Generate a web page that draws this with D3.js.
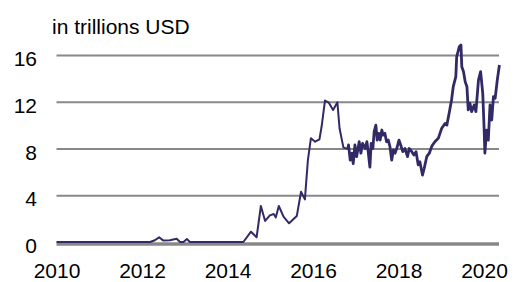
<!DOCTYPE html>
<html>
<head>
<meta charset="utf-8">
<script src="https://cdn.jsdelivr.net/npm/d3@7"></script>
<style>
  body { margin: 0; background: #fff; }
  svg { display: block; font-family: "Liberation Sans", Arial, sans-serif; }
</style>
</head>
<body>
<svg id="chart" width="518" height="282"></svg>
<script>
const unitLabel = "in trillions USD";
const xTicks = [2010, 2012, 2014, 2016, 2018, 2020];
const yTicks = [0, 4, 8, 12, 16];

// decimal years
const years = [
  2010.00, 2012.19, 2012.30, 2012.40, 2012.50, 2012.65, 2012.81, 2012.89, 2012.97, 2013.05, 2013.12,
  2014.37, 2014.55, 2014.68, 2014.78, 2014.88, 2014.99, 2015.08, 2015.13, 2015.20, 2015.31, 2015.44,
  2015.62, 2015.72, 2015.81, 2015.88, 2015.95, 2016.05, 2016.15, 2016.20, 2016.28, 2016.37, 2016.47,
  2016.57, 2016.62, 2016.71, 2016.81, 2016.83, 2016.87, 2016.91, 2016.94, 2016.98, 2017.02, 2017.08,
  2017.12, 2017.16, 2017.22, 2017.26, 2017.29, 2017.33, 2017.36, 2017.40, 2017.43, 2017.47, 2017.50,
  2017.54, 2017.57, 2017.61, 2017.64, 2017.68, 2017.72, 2017.76, 2017.80, 2017.84, 2017.88, 2017.92,
  2017.97, 2018.01, 2018.05, 2018.10, 2018.15, 2018.21, 2018.25, 2018.31, 2018.36, 2018.41, 2018.46,
  2018.50, 2018.56, 2018.60, 2018.66, 2018.72, 2018.78, 2018.85, 2018.93, 2019.01, 2019.09, 2019.13,
  2019.19, 2019.24, 2019.28, 2019.34, 2019.36, 2019.42, 2019.46, 2019.48, 2019.52, 2019.56, 2019.60,
  2019.63, 2019.67, 2019.71, 2019.77, 2019.81, 2019.87, 2019.92, 2019.97, 2020.00, 2020.02, 2020.06,
  2020.10, 2020.14, 2020.18, 2020.22, 2020.26, 2020.31, 2020.36
];
const values = [
  0, 0, 0.15, 0.4, 0.12, 0.15, 0.28, 0, 0, 0.25, 0,
  0, 0.88, 0.4, 3.08, 1.8, 2.28, 2.39, 2.11, 3.08, 2.17, 1.6,
  2.22, 4.3, 3.65, 7.0, 8.87, 8.58, 8.78, 9.86, 12.1, 11.92, 11.3,
  11.95, 9.73, 8.1, 7.95, 8.3, 7.0, 7.6, 6.7, 8.3, 7.3, 8.58,
  7.6, 8.44, 8.0, 8.58, 7.73, 6.4, 8.44, 8.0, 9.44, 10.0, 8.72,
  9.3, 8.72, 9.58, 9.15, 9.3, 8.58, 8.72, 8.15, 7.0, 7.87, 7.6,
  8.15, 8.72, 8.3, 7.73, 8.0, 7.3, 8.0, 7.73, 7.44, 7.73, 6.6,
  6.87, 5.73, 6.3, 7.3, 7.6, 8.21, 8.58, 8.87, 9.73, 10.15, 10.0,
  11.15, 12.15, 13.29, 14.15, 15.85, 16.7, 16.85, 15.0, 14.57, 13.7, 13.29,
  11.3, 11.87, 11.15, 11.72, 11.15, 13.86, 14.57, 12.72, 9.86, 7.6, 9.58,
  8.72, 11.72, 10.44, 12.43, 12.29, 13.86, 15.15
];

const svg = d3.select("#chart");
const plotLeft = 56.5, plotRight = 499, plotTop = 55, plotBottom = 242;

const x = d3.scaleLinear().domain([2010, 2020.35]).range([plotLeft, plotRight]);
const y = d3.scaleLinear().domain([0, 16]).range([plotBottom, plotTop]);

// gridlines + y labels
const gy = svg.append("g")
  .attr("transform", `translate(${plotLeft},0)`)
  .call(d3.axisLeft(y).tickValues(yTicks).tickSize(-(plotRight - plotLeft)).tickPadding(19.5));
gy.select(".domain").remove();
gy.selectAll(".tick line").attr("stroke", "#888").attr("stroke-width", 2);
gy.selectAll(".tick").filter(d => d === 0).select("line")
  .attr("stroke-width", 3.5).attr("transform", "translate(0,1.5)");
gy.selectAll(".tick text").attr("font-size", 21).attr("fill", "#000")
  .attr("font-family", "Liberation Sans, Arial, sans-serif").attr("dy", "0.5em");

// x labels
const gx = svg.append("g")
  .attr("transform", `translate(0,${plotBottom})`)
  .call(d3.axisBottom(x).tickValues(xTicks).tickFormat(d3.format("d")).tickSize(0).tickPadding(21));
gx.select(".domain").remove();
gx.selectAll(".tick text").attr("font-size", 21).attr("fill", "#000")
  .attr("font-family", "Liberation Sans, Arial, sans-serif");

// series: the daily-noise stretch after late 2016 renders heavier in the original
const pts = years.map((yr, i) => [yr, values[i]]);
const split = years.findIndex(yr => yr >= 2016.8);
const line = d3.line().x(d => x(d[0])).y(d => y(d[1]));
svg.append("path")
  .datum(pts.slice(0, split + 1))
  .attr("fill", "none")
  .attr("stroke", "#322a66")
  .attr("stroke-width", 2)
  .attr("stroke-linejoin", "round")
  .attr("d", line);
svg.append("path")
  .datum(pts.slice(split))
  .attr("fill", "none")
  .attr("stroke", "#322a66")
  .attr("stroke-width", 2.8)
  .attr("stroke-linejoin", "round")
  .attr("d", line);

svg.append("text")
  .attr("x", 52)
  .attr("y", 34)
  .attr("font-size", 21)
  .attr("fill", "#000")
  .text(unitLabel);
</script>
</body>
</html>
